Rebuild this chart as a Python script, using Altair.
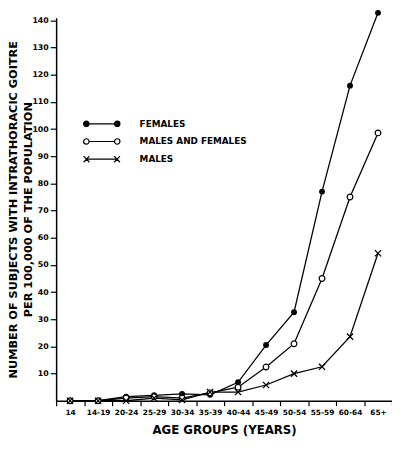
import altair as alt
import pandas as pd

categories = ["14", "14-19", "20-24", "25-29", "30-34", "35-39",
              "40-44", "45-49", "50-54", "55-59", "60-64", "65+"]
females = [0, 0, 1.5, 2, 2.5, 2.2, 6.8, 20.5, 32.6, 77, 116, 142.8]
males_and_females = [0, 0, 1, 1.5, 1, 2.9, 5, 12.4, 21, 45, 75, 98.6]
males = [0, 0, 0, 1, 0.3, 3.2, 3.2, 5.8, 10, 12.5, 23.6, 54.3]
series_names = ["FEMALES", "MALES AND FEMALES", "MALES"]
y_ticks = [10, 20, 30, 40, 50, 60, 70, 80, 90, 100, 110, 120, 130, 140]

rows = []
for name, vals in zip(series_names, [females, males_and_females, males]):
    for c, v in zip(categories, vals):
        rows.append({"age": c, "rate": v, "series": name})
df = pd.DataFrame(rows)

FONT = "DejaVu Sans"

x_enc = alt.X("age:N", sort=categories,
              scale=alt.Scale(paddingInner=0, paddingOuter=0),
              axis=alt.Axis(title="AGE GROUPS (YEARS)", labelAngle=0,
                            labelFontSize=7.5, labelFontWeight="bold",
                            labelPadding=3, tickBand="extent", tickSize=5,
                            tickColor="black", tickWidth=1.2,
                            domainColor="black", domainWidth=1.5,
                            titleFontSize=12, titleFontWeight="bold",
                            titlePadding=9, labelColor="black",
                            titleColor="black"))
y_enc = alt.Y("rate:Q",
              scale=alt.Scale(domain=[0, 141], nice=False, clamp=False),
              axis=alt.Axis(title=["NUMBER OF SUBJECTS WITH INTRATHORACIC GOITRE",
                                   "PER 100,000 OF THE POPULATION"],
                            values=y_ticks, grid=False,
                            labelFontSize=8, labelFontWeight="bold",
                            labelPadding=2, tickSize=6, tickColor="black",
                            tickWidth=1.2, domainColor="black",
                            domainWidth=1.5, titleFontSize=11.5,
                            titleFontWeight="bold", titleLineHeight=16,
                            titlePadding=-2, labelColor="black",
                            titleColor="black"))

base = alt.Chart(df)

lines = base.mark_line(color="black", strokeWidth=1.3, clip=False).encode(
    x=x_enc, y=y_enc, detail="series:N")

fem_pts = base.transform_filter(alt.datum.series == "FEMALES").mark_point(
    shape="circle", filled=True, color="black", size=36, opacity=1).encode(
    x=x_enc, y=y_enc)

mf_pts = base.transform_filter(alt.datum.series == "MALES AND FEMALES").mark_point(
    shape="circle", filled=True, fill="white", stroke="black", strokeWidth=1.2,
    size=34, opacity=1).encode(x=x_enc, y=y_enc)

m_pts = base.transform_filter(alt.datum.series == "MALES").mark_point(
    shape="M-1,-1L1,1M-1,1L1,-1", filled=False, stroke="black",
    strokeWidth=1.3, size=40, opacity=1).encode(x=x_enc, y=y_enc)

circ_path = ("M-1,0A0.15,0.15 0 1,1 -0.7,0A0.15,0.15 0 1,1 -1,0Z"
             "M0.7,0A0.15,0.15 0 1,1 1,0A0.15,0.15 0 1,1 0.7,0Z"
             "M-0.7,0L0.7,0")
x_path = ("M-1,-0.17L-0.68,0.17M-1,0.17L-0.68,-0.17"
          "M-0.84,0L0.84,0"
          "M0.68,-0.17L1,0.17M0.68,0.17L1,-0.17")


def leg():
    return alt.Legend(title=None, orient="none", legendX=27, legendY=102,
                      symbolSize=1369, clipHeight=12, rowPadding=6,
                      labelOffset=19, labelFontSize=9, labelFontWeight="bold",
                      labelColor="black", symbolOpacity=1,
                      symbolStrokeColor="black", symbolStrokeWidth=1.2)


legend_layer = base.mark_point(filled=True, opacity=0,
                               strokeWidth=1.2).encode(
    x=x_enc, y=y_enc,
    shape=alt.Shape("series:N",
                    scale=alt.Scale(domain=series_names,
                                    range=[circ_path, circ_path, x_path]),
                    legend=leg()),
    fill=alt.Fill("series:N",
                  scale=alt.Scale(domain=series_names,
                                  range=["black", "white", "black"]),
                  legend=leg()),
    stroke=alt.Stroke("series:N",
                      scale=alt.Scale(domain=series_names,
                                      range=["black", "black", "black"]),
                      legend=leg()),
)

chart = alt.layer(lines, legend_layer, fem_pts, mf_pts, m_pts).properties(
    width=342, height=390,
    autosize=alt.AutoSizeParams(type="none"),
    padding={"left": 49, "top": 6, "right": 0, "bottom": 33},
    background="white",
).configure(font=FONT).configure_view(stroke=None)

chart.save("out.html", embed_options={"renderer": "svg", "actions": False})
